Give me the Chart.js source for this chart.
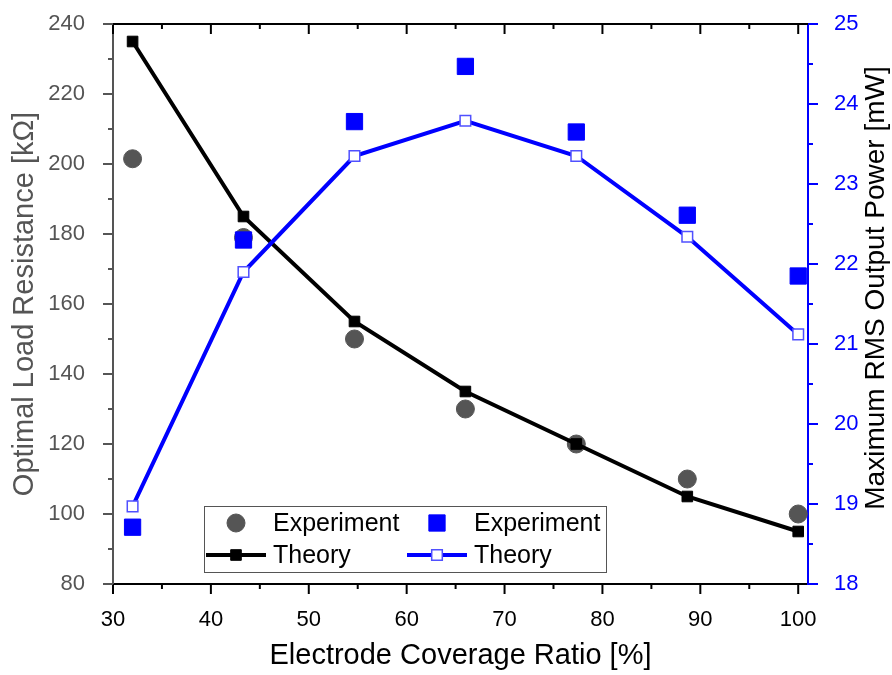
<!DOCTYPE html>
<html>
<head>
<meta charset="utf-8">
<script src="https://cdn.jsdelivr.net/npm/chart.js@4"></script>
<style>
  html, body { margin: 0; padding: 0; background: #fff; }
</style>
</head>
<body>
<canvas id="myChart" width="892" height="675"></canvas>
<script>
// electrode coverage ratio [%]
const coverage = [32, 43.33, 54.67, 66, 77.33, 88.67, 100];

// optimal load resistance [kOhm]
const resistanceExp = [201.5, 179, 150, 130, 120, 110, 100];
const resistanceTheory = [235, 185, 155, 135, 120, 105, 95];

// maximum RMS output power [mW]
const powerExp = [18.71, 22.3, 23.78, 24.47, 23.65, 22.61, 21.85];
const powerTheory = [18.97, 21.9, 23.35, 23.79, 23.35, 22.34, 21.12];

const xTicks = [30, 40, 50, 60, 70, 80, 90, 100];
const leftTicks = [80, 100, 120, 140, 160, 180, 200, 220, 240];
const rightTicks = [18, 19, 20, 21, 22, 23, 24, 25];

const FONT = "'Liberation Sans', Arial, sans-serif";
const GRAY = '#555555';
const BLUE = '#0000ff';

function pairs(xs, ys) {
    return xs.map((x, i) => ({x: x, y: ys[i]}));
}

function seg(c, x1, y1, x2, y2) {
    c.beginPath();
    c.moveTo(x1, y1);
    c.lineTo(x2, y2);
    c.stroke();
}

// tick marks (major + minor), top frame line, right title and the boxed legend
const frame = {
    id: 'frame',
    afterDraw(chart) {
        const c = chart.ctx;
        const a = chart.chartArea;
        const sx = chart.scales.x, sl = chart.scales.y, sr = chart.scales.y1;
        c.save();
        c.lineWidth = 2;

        c.strokeStyle = '#000';
        seg(c, a.left - 1, a.top, a.right + 1, a.top);
        for (let v = 30; v <= 100; v += 5) {
            const px = sx.getPixelForValue(v);
            const len = v % 10 === 0 ? 10 : 5;
            seg(c, px, a.bottom, px, a.bottom + len);
            seg(c, px, a.top, px, a.top + len);
        }

        c.strokeStyle = GRAY;
        for (let v = 80; v <= 240; v += 10) {
            const py = sl.getPixelForValue(v);
            const len = v % 20 === 0 ? 10 : 5;
            seg(c, a.left - len, py, a.left, py);
        }

        c.strokeStyle = BLUE;
        for (let v = 18; v <= 25; v += 0.5) {
            const py = sr.getPixelForValue(v);
            const len = Number.isInteger(v) ? 10 : 5;
            seg(c, a.right, py, a.right + len, py);
        }

        // right axis title, reading bottom to top
        c.save();
        c.translate(876, 288);
        c.rotate(-Math.PI / 2);
        c.fillStyle = '#000';
        c.font = '28px ' + FONT;
        c.textAlign = 'center';
        c.textBaseline = 'middle';
        c.fillText('Maximum RMS Output Power [mW]', 0, 0);
        c.restore();

        // legend box
        const bx = 204, by = 506, bw = 402, bh = 66;
        c.fillStyle = '#fff';
        c.fillRect(bx, by, bw, bh);
        c.strokeStyle = GRAY;
        c.lineWidth = 1;
        c.strokeRect(bx + 0.5, by + 0.5, bw, bh);

        const sets = chart.data.datasets;
        const items = [
            {ds: sets[0], mx: 236, tx: 273, row: 523, withLine: false},
            {ds: sets[1], mx: 236, tx: 273, row: 555, withLine: true},
            {ds: sets[2], mx: 437, tx: 474, row: 523, withLine: false},
            {ds: sets[3], mx: 437, tx: 474, row: 555, withLine: true}
        ];
        c.font = '25px ' + FONT;
        c.textBaseline = 'middle';
        c.textAlign = 'left';
        items.forEach(it => {
            const ds = it.ds;
            if (it.withLine) {
                c.strokeStyle = ds.borderColor;
                c.lineWidth = ds.borderWidth;
                seg(c, it.mx - 30, it.row, it.mx + 30, it.row);
            }
            c.fillStyle = ds.pointBackgroundColor;
            c.strokeStyle = ds.pointBorderColor;
            c.lineWidth = ds.pointBorderWidth;
            Chart.helpers.drawPoint(c, {
                pointStyle: ds.pointStyle,
                radius: ds.pointRadius,
                borderWidth: ds.pointBorderWidth,
                rotation: 0
            }, it.mx, it.row);
            c.fillStyle = '#000';
            c.fillText(ds.label, it.tx, it.row + 1);
        });
        c.restore();
    }
};

new Chart(document.getElementById('myChart').getContext('2d'), {
    type: 'scatter',
    data: {
        datasets: [{
            label: 'Experiment',
            data: pairs(coverage, resistanceExp),
            yAxisID: 'y',
            pointStyle: 'circle',
            pointRadius: 9,
            pointHoverRadius: 9,
            pointBackgroundColor: GRAY,
            pointBorderColor: GRAY,
            pointBorderWidth: 1,
            order: 4
        }, {
            label: 'Theory',
            data: pairs(coverage, resistanceTheory),
            yAxisID: 'y',
            showLine: true,
            borderColor: '#000',
            borderWidth: 4,
            pointStyle: 'rect',
            pointRadius: 7.5,
            pointHoverRadius: 7.5,
            pointBackgroundColor: '#000',
            pointBorderColor: '#000',
            pointBorderWidth: 1,
            order: 3
        }, {
            label: 'Experiment',
            data: pairs(coverage, powerExp),
            yAxisID: 'y1',
            pointStyle: 'rect',
            pointRadius: 11.5,
            pointHoverRadius: 11.5,
            pointBackgroundColor: BLUE,
            pointBorderColor: BLUE,
            pointBorderWidth: 1,
            order: 2
        }, {
            label: 'Theory',
            data: pairs(coverage, powerTheory),
            yAxisID: 'y1',
            showLine: true,
            borderColor: BLUE,
            borderWidth: 4,
            pointStyle: 'rect',
            pointRadius: 7.5,
            pointHoverRadius: 7.5,
            pointBackgroundColor: '#fff',
            pointBorderColor: '#5050ff',
            pointBorderWidth: 1.5,
            order: 1
        }]
    },
    options: {
        responsive: false,
        animation: false,
        clip: false,
        layout: {padding: {top: 24}},
        plugins: {
            legend: {display: false},
            tooltip: {enabled: false}
        },
        scales: {
            x: {
                type: 'linear',
                position: 'bottom',
                min: 30,
                max: 101,
                afterFit: s => { s.height = 91; },
                afterBuildTicks: s => { s.ticks = xTicks.map(v => ({value: v})); },
                grid: {display: false},
                border: {display: true, color: '#000', width: 2},
                ticks: {
                    color: '#000',
                    padding: 15,
                    font: {family: FONT, size: 22}
                },
                title: {
                    display: true,
                    text: 'Electrode Coverage Ratio [%]',
                    color: '#000',
                    padding: {top: 0, bottom: 2},
                    font: {family: FONT, size: 29}
                }
            },
            y: {
                type: 'linear',
                position: 'left',
                min: 80,
                max: 240,
                afterFit: s => { s.width = 113; },
                afterBuildTicks: s => { s.ticks = leftTicks.map(v => ({value: v})); },
                grid: {display: false},
                border: {display: true, color: GRAY, width: 2},
                ticks: {
                    color: GRAY,
                    padding: 20,
                    // small line height keeps the label overhang from pushing the plot down
                    font: {family: FONT, size: 22, lineHeight: 0.3}
                },
                title: {
                    display: true,
                    text: 'Optimal Load Resistance [kΩ]',
                    color: GRAY,
                    padding: {top: 8, bottom: 0},
                    font: {family: FONT, size: 29}
                }
            },
            y1: {
                type: 'linear',
                position: 'right',
                min: 18,
                max: 25,
                afterFit: s => { s.width = 84; },
                afterBuildTicks: s => { s.ticks = rightTicks.map(v => ({value: v})); },
                grid: {display: false},
                border: {display: true, color: BLUE, width: 2},
                ticks: {
                    color: BLUE,
                    padding: 18,
                    font: {family: FONT, size: 22, lineHeight: 0.3}
                }
            }
        }
    },
    plugins: [frame]
});
</script>
</body>
</html>
